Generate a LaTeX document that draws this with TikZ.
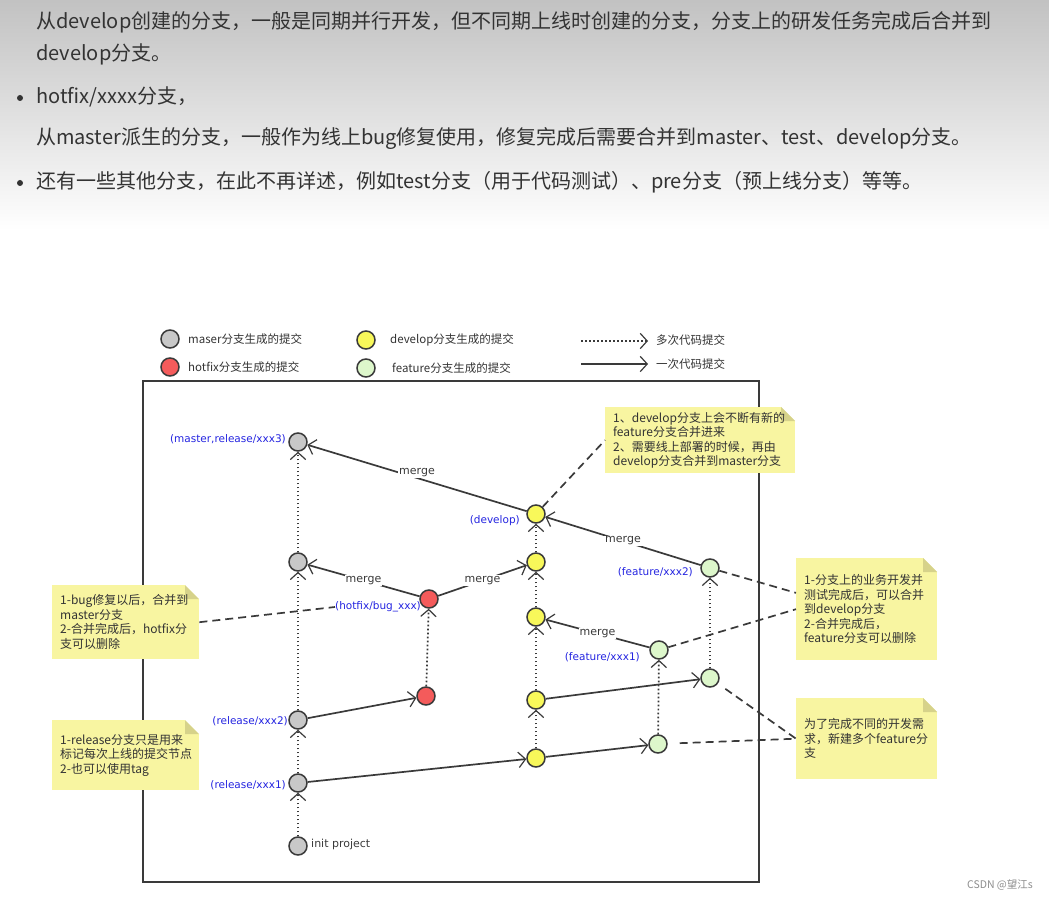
\documentclass[tikz,border=0pt]{standalone}
\usepackage{fontspec}
\setmainfont{Noto Sans CJK SC}
\newfontfamily\enfont{DejaVu Sans}
\usetikzlibrary{arrows.meta}

\definecolor{linegray}{HTML}{3A3A3A}
\definecolor{mastergray}{HTML}{C8C8C8}
\definecolor{hotfixred}{HTML}{F45B5B}
\definecolor{devyellow}{HTML}{F8F85A}
\definecolor{featgreen}{HTML}{DDF7CB}
\definecolor{tagblue}{HTML}{2424E0}
\definecolor{notefill}{HTML}{F8F5A1}
\definecolor{notefold}{HTML}{D6D28A}
\definecolor{pagetext}{HTML}{333333}

\newcommand{\pagefont}{\fontsize{20}{24}\selectfont}
\newcommand{\diagfont}{\fontsize{11.5}{14.5}\selectfont}
\newcommand{\notefont}{\fontsize{12}{14.5}\selectfont}
\newcommand{\tagfont}{\enfont\fontsize{10.5}{12}\selectfont}
\newcommand{\mergefont}{\enfont\fontsize{11}{12}\selectfont}

\begin{document}
\begin{tikzpicture}[x=1pt,y=-1pt,
    >={Straight Barb[length=5pt,width=11pt,line width=1.2pt,scale=1.4]},
    commit/.style={circle,draw=linegray,line width=1.5pt,minimum size=18pt,inner sep=0pt},
    mastercommit/.style={commit,fill=mastergray},
    hotfixcommit/.style={commit,fill=hotfixred},
    devcommit/.style={commit,fill=devyellow},
    featcommit/.style={commit,fill=featgreen},
    branchtag/.style={anchor=east,inner sep=0pt,text=tagblue,font=\tagfont},
    legendtext/.style={anchor=west,inner sep=0pt,text=pagetext,font=\diagfont},
    pageline/.style={anchor=west,inner sep=0pt,text=pagetext,font=\pagefont},
    onecommit/.style={->,draw=linegray,line width=1.7pt},
    manycommits/.style={onecommit,dash pattern=on 1.7pt off 2.3pt},
    mergelabel/.style={fill=white,inner sep=1pt,text=linegray,font=\mergefont},
    notelink/.style={draw=linegray,line width=1.7pt,dash pattern=on 8pt off 5pt},
    notebox/.style={anchor=north west,align=left,fill=notefill,inner xsep=8pt,inner ysep=4pt,
      text=pagetext,font=\notefont,
      path picture={
        \fill[white] ([xshift=-14pt]path picture bounding box.north east)
          -- (path picture bounding box.north east)
          -- ([yshift=-14pt]path picture bounding box.north east) -- cycle;
        \fill[notefold] ([xshift=-14pt]path picture bounding box.north east)
          -- ([yshift=-14pt]path picture bounding box.north east)
          -- ([shift={(-14pt,-14pt)}]path picture bounding box.north east) -- cycle;
      }}
  ]
  \useasboundingbox (0,0) rectangle (1049,901);
  \shade[top color=black!24,bottom color=white] (0,0) rectangle (1049,230);

  % page text above the figure
  \node[pageline] (p1) at (36,22) {从develop创建的分支，一般是同期并行开发，但不同期上线时创建的分支，分支上的研发任务完成后合并到};
  \node[pageline] (p2) at (36,54) {develop分支。};
  \fill[pagetext] (20,98) circle (3pt);
  \node[pageline] (p3) at (36,97) {hotfix/xxxx分支，};
  \node[pageline] (p4) at (36,139) {从master派生的分支，一般作为线上bug修复使用，修复完成后需要合并到master、test、develop分支。};
  \fill[pagetext] (20,183) circle (3pt);
  \node[pageline] (p5) at (36,182) {还有一些其他分支，在此不再详述，例如test分支（用于代码测试）、pre分支（预上线分支）等等。};

  % legend
  \node[mastercommit] (lgm) at (170,339) {};
  \node[legendtext] (lgmt) at (188,339) {maser分支生成的提交};
  \node[hotfixcommit] (lgh) at (170,367) {};
  \node[legendtext] (lght) at (188,367) {hotfix分支生成的提交};
  \node[devcommit] (lgd) at (366,340) {};
  \node[legendtext] (lgdt) at (390,340) {develop分支生成的提交};
  \node[featcommit] (lgf) at (366,368) {};
  \node[legendtext] (lgft) at (392,368) {feature分支生成的提交};
  \coordinate (lgdot1) at (581,341);
  \coordinate (lgdot2) at (648,341);
  \draw[manycommits] (lgdot1) -- (lgdot2);
  \node[legendtext] (lgdott) at (656,340) {多次代码提交};
  \coordinate (lgone1) at (581,364);
  \coordinate (lgone2) at (648,364);
  \draw[onecommit] (lgone1) -- (lgone2);
  \node[legendtext] (lgonet) at (656,364) {一次代码提交};

  \draw[line width=1.6pt,draw=linegray] (143,381) rectangle (759,882);

  % commits
  \node[mastercommit] (init) at (298,846) {};
  \node[mastercommit] (rel1) at (298,783) {};
  \node[mastercommit] (rel2) at (298,720) {};
  \node[mastercommit] (mst2) at (298,562) {};
  \node[mastercommit] (mst3) at (298,442) {};
  \node[hotfixcommit] (fix1) at (426,696) {};
  \node[hotfixcommit] (fix2) at (429,599) {};
  \node[devcommit] (dev1) at (536,758) {};
  \node[devcommit] (dev2) at (536,700) {};
  \node[devcommit] (dev3) at (536,617) {};
  \node[devcommit] (dev4) at (536,562) {};
  \node[devcommit] (dev5) at (536,514) {};
  \node[featcommit] (fa1) at (658,744) {};
  \node[featcommit] (fa2) at (659,650) {};
  \node[featcommit] (fb1) at (710,678) {};
  \node[featcommit] (fb2) at (710,568) {};

  \node[branchtag] (tmst3) at (286,439) {(master,release/xxx3)};
  \node[branchtag] (tdev5) at (520,521) {(develop)};
  \node[branchtag] (tfix2) at (421,607) {(hotfix/bug\_xxx)};
  \node[branchtag] (tfb2) at (693,572) {(feature/xxx2)};
  \node[branchtag] (tfa2) at (640,657) {(feature/xxx1)};
  \node[branchtag] (trel2) at (288,721) {(release/xxx2)};
  \node[branchtag] (trel1) at (286,785) {(release/xxx1)};
  \node[anchor=west,inner sep=0pt,text=linegray,font=\mergefont] (tinit) at (311,844) {init project};

  % several commits
  \draw[manycommits] (init) -- (rel1);
  \draw[manycommits] (rel1) -- (rel2);
  \draw[manycommits] (rel2) -- (mst2);
  \draw[manycommits] (mst2) -- (mst3);
  \draw[manycommits] (fix1) -- (fix2);
  \draw[manycommits] (dev1) -- (dev2);
  \draw[manycommits] (dev2) -- (dev3);
  \draw[manycommits] (dev3) -- (dev4);
  \draw[manycommits] (dev4) -- (dev5);
  \draw[manycommits] (fa1) -- (fa2);
  \draw[manycommits] (fb1) -- (fb2);

  % one commit
  \draw[onecommit] (rel1) -- (dev1);
  \draw[onecommit] (rel2) -- (fix1);
  \draw[onecommit] (dev1) -- (fa1);
  \draw[onecommit] (dev2) -- (fb1);
  \draw[onecommit] (fix2) -- node[mergelabel] (mg2) {merge} (mst2);
  \draw[onecommit] (fix2) -- node[mergelabel] (mg3) {merge} (dev4);
  \draw[onecommit] (dev5) -- node[mergelabel,yshift=5pt] (mg1) {merge} (mst3);
  \draw[onecommit] (fb2) -- node[mergelabel] (mg4) {merge} (dev5);
  \draw[onecommit] (fa2) -- node[mergelabel] (mg5) {merge} (dev3);

  % notes
  \node[notebox,minimum width=190pt,minimum height=66pt,text width=174pt] (note1) at (605,407)
    {1、develop分支上会不断有新的\\feature分支合并进来\\2、需要线上部署的时候，再由\\develop分支合并到master分支};
  \node[notebox,minimum width=147pt,minimum height=74pt,text width=131pt] (note2) at (52,585)
    {1-bug修复以后，合并到\\master分支\\2-合并完成后，hotfix分\\支可以删除};
  \node[notebox,minimum width=147pt,minimum height=70pt,text width=131pt] (note3) at (52,720)
    {1-release分支只是用来\\标记每次上线的提交节点\\2-也可以使用tag};
  \node[notebox,minimum width=141pt,minimum height=102pt,text width=125pt] (note4) at (796,558)
    {1-分支上的业务开发并\\测试完成后，可以合并\\到develop分支\\2-合并完成后，\\feature分支可以删除};
  \node[notebox,minimum width=141pt,minimum height=81pt,text width=125pt] (note5) at (796,698)
    {为了完成不同的开发需\\求，新建多个feature分\\支};

  \draw[notelink] (dev5) -- (note1.west);
  \draw[notelink] (note2.east) -- (tfix2.west);
  \draw[notelink] (fb2) -- (note4.167);
  \draw[notelink] (fa2) -- (note4.west);
  \draw[notelink,shorten <=9pt] (fb1) -- (note5.west);
  \draw[notelink,shorten <=12pt] (fa1) -- (note5.west);

  \node[anchor=east,inner sep=0pt,text=black!45,font=\fontsize{10.5}{12}\selectfont] (mark) at (1033,885) {CSDN @望江s};
\end{tikzpicture}
\end{document}
